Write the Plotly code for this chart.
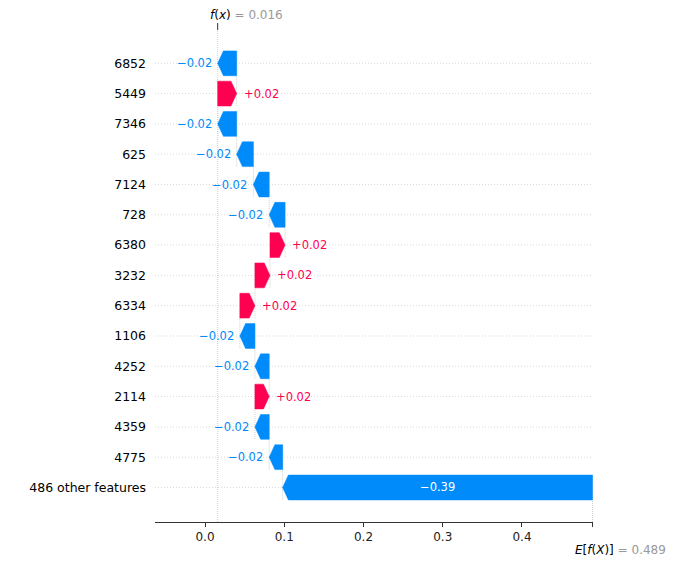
import plotly.graph_objects as go

# ---- data ----
feature_names = ["6852", "5449", "7346", "625", "7124", "728", "6380", "3232",
                 "6334", "1106", "4252", "2114", "4359", "4775", "486 other features"]
shap_values = [-0.024, 0.024, -0.024, -0.021, -0.020, -0.020, 0.019, 0.019,
               0.019, -0.019, -0.018, 0.018, -0.018, -0.017, -0.391]
base_value = 0.489
fx_value = 0.016
x_ticks = [0.0, 0.1, 0.2, 0.3, 0.4]
x_tick_labels = ["0.0", "0.1", "0.2", "0.3", "0.4"]

POS = "#ff0051"
NEG = "#008bfb"
FONT = "DejaVu Sans"

n = len(feature_names)
rows = [n - 1 - i for i in range(n)]  # top feature at highest row

# compute bar starts/ends bottom-up from base value
starts = [0.0] * n
ends = [0.0] * n
cur = base_value
for i in range(n - 1, -1, -1):
    starts[i] = cur
    cur = cur + shap_values[i]
    ends[i] = cur

XMIN, XMAX = -0.0631, 0.4896
YMIN, YMAX = -1.139, 15.099
half_h = 0.41
head = 0.0072

fig = go.Figure()

# horizontal dotted row lines
for r in rows:
    fig.add_trace(go.Scatter(x=[XMIN, XMAX], y=[r, r], mode="lines",
                             line=dict(color="#d9d9d9", width=1, dash="1px,2px"),
                             hoverinfo="skip", showlegend=False))

# vertical connector lines
for i in range(n):
    r = rows[i]
    y0 = max(r - 1 - 0.4, YMIN)
    fig.add_trace(go.Scatter(x=[starts[i], starts[i]], y=[y0, r + 0.4], mode="lines",
                             line=dict(color="#cfcfcf", width=1, dash="1px,1px"),
                             hoverinfo="skip", showlegend=False))

# f(x) full-height line
fig.add_trace(go.Scatter(x=[fx_value, fx_value], y=[YMIN, YMAX], mode="lines",
                         line=dict(color="#cfcfcf", width=1, dash="1px,1px"),
                         hoverinfo="skip", showlegend=False))

# arrow bars
for i in range(n):
    s, e, r = starts[i], ends[i], rows[i]
    d = 1 if e >= s else -1
    hl = min(abs(e - s), head)
    xs = [s, e - d * hl, e, e - d * hl, s, s]
    ys = [r - half_h, r - half_h, r, r + half_h, r + half_h, r - half_h]
    col = POS if shap_values[i] > 0 else NEG
    fig.add_trace(go.Scatter(x=xs, y=ys, mode="lines", fill="toself",
                             fillcolor=col, line=dict(color=col, width=0.5),
                             hoverinfo="skip", showlegend=False))

annotations = []
for i in range(n):
    v = shap_values[i]
    txt = f"{v:+.2f}".replace("-", "\u2212")
    col = POS if v > 0 else NEG
    s, e, r = starts[i], ends[i], rows[i]
    if abs(e - s) > 0.1:
        annotations.append(dict(x=(s + e) / 2, y=r, xref="x", yref="y", text=txt,
                                showarrow=False, xanchor="center", yanchor="middle",
                                font=dict(family=FONT, size=11.5, color="white")))
    else:
        if v < 0:
            annotations.append(dict(x=e, y=r, xref="x", yref="y", text=txt,
                                    showarrow=False, xanchor="right", yanchor="middle",
                                    xshift=-4, font=dict(family=FONT, size=11.5, color=col)))
        else:
            annotations.append(dict(x=e, y=r, xref="x", yref="y", text=txt,
                                    showarrow=False, xanchor="left", yanchor="middle",
                                    xshift=5, font=dict(family=FONT, size=11.5, color=col)))

# f(x) and E[f(X)] labels
annotations.append(dict(x=0.121, y=1.0, xref="paper", yref="paper", yshift=15,
                        text=f"<i>f</i>(<i>x</i>)<span style='color:#999999'> = {fx_value:.3f}</span>",
                        showarrow=False, xanchor="left", yanchor="middle",
                        font=dict(family=FONT, size=12, color="black")))
annotations.append(dict(x=0.954, y=0.0, xref="paper", yref="paper", yshift=-28,
                        text=f"<i>E</i>[<i>f</i>(<i>X</i>)]<span style='color:#999999'> = {base_value:.3f}</span>",
                        showarrow=False, xanchor="left", yanchor="middle",
                        font=dict(family=FONT, size=12, color="black")))

shapes = [
    dict(type="line", xref="x", yref="paper", x0=fx_value, x1=fx_value,
         y0=1.0, y1=1.0 + 7 / 492, line=dict(color="#333333", width=1)),
    dict(type="line", xref="x", yref="paper", x0=base_value, x1=base_value,
         y0=0.0, y1=-5 / 492, line=dict(color="#333333", width=1)),
]

fig.update_layout(
    width=676, height=561,
    margin=dict(l=155, r=83, t=30, b=39),
    paper_bgcolor="white", plot_bgcolor="white",
    font=dict(family=FONT, size=12, color="black"),
    annotations=annotations, shapes=shapes,
    xaxis=dict(range=[XMIN, XMAX], tickvals=x_ticks, ticktext=x_tick_labels,
               showgrid=False, zeroline=False, showline=True, linecolor="#333333",
               linewidth=1, ticks="outside", ticklen=4, tickcolor="#333333",
               tickfont=dict(family=FONT, size=12, color="#222222")),
    yaxis=dict(range=[YMIN, YMAX], tickvals=rows, ticktext=feature_names,
               showgrid=False, zeroline=False, showline=False, ticks="",
               ticklabelstandoff=8,
               tickfont=dict(family=FONT, size=12.5, color="black")),
)

fig.write_html("out.html")
